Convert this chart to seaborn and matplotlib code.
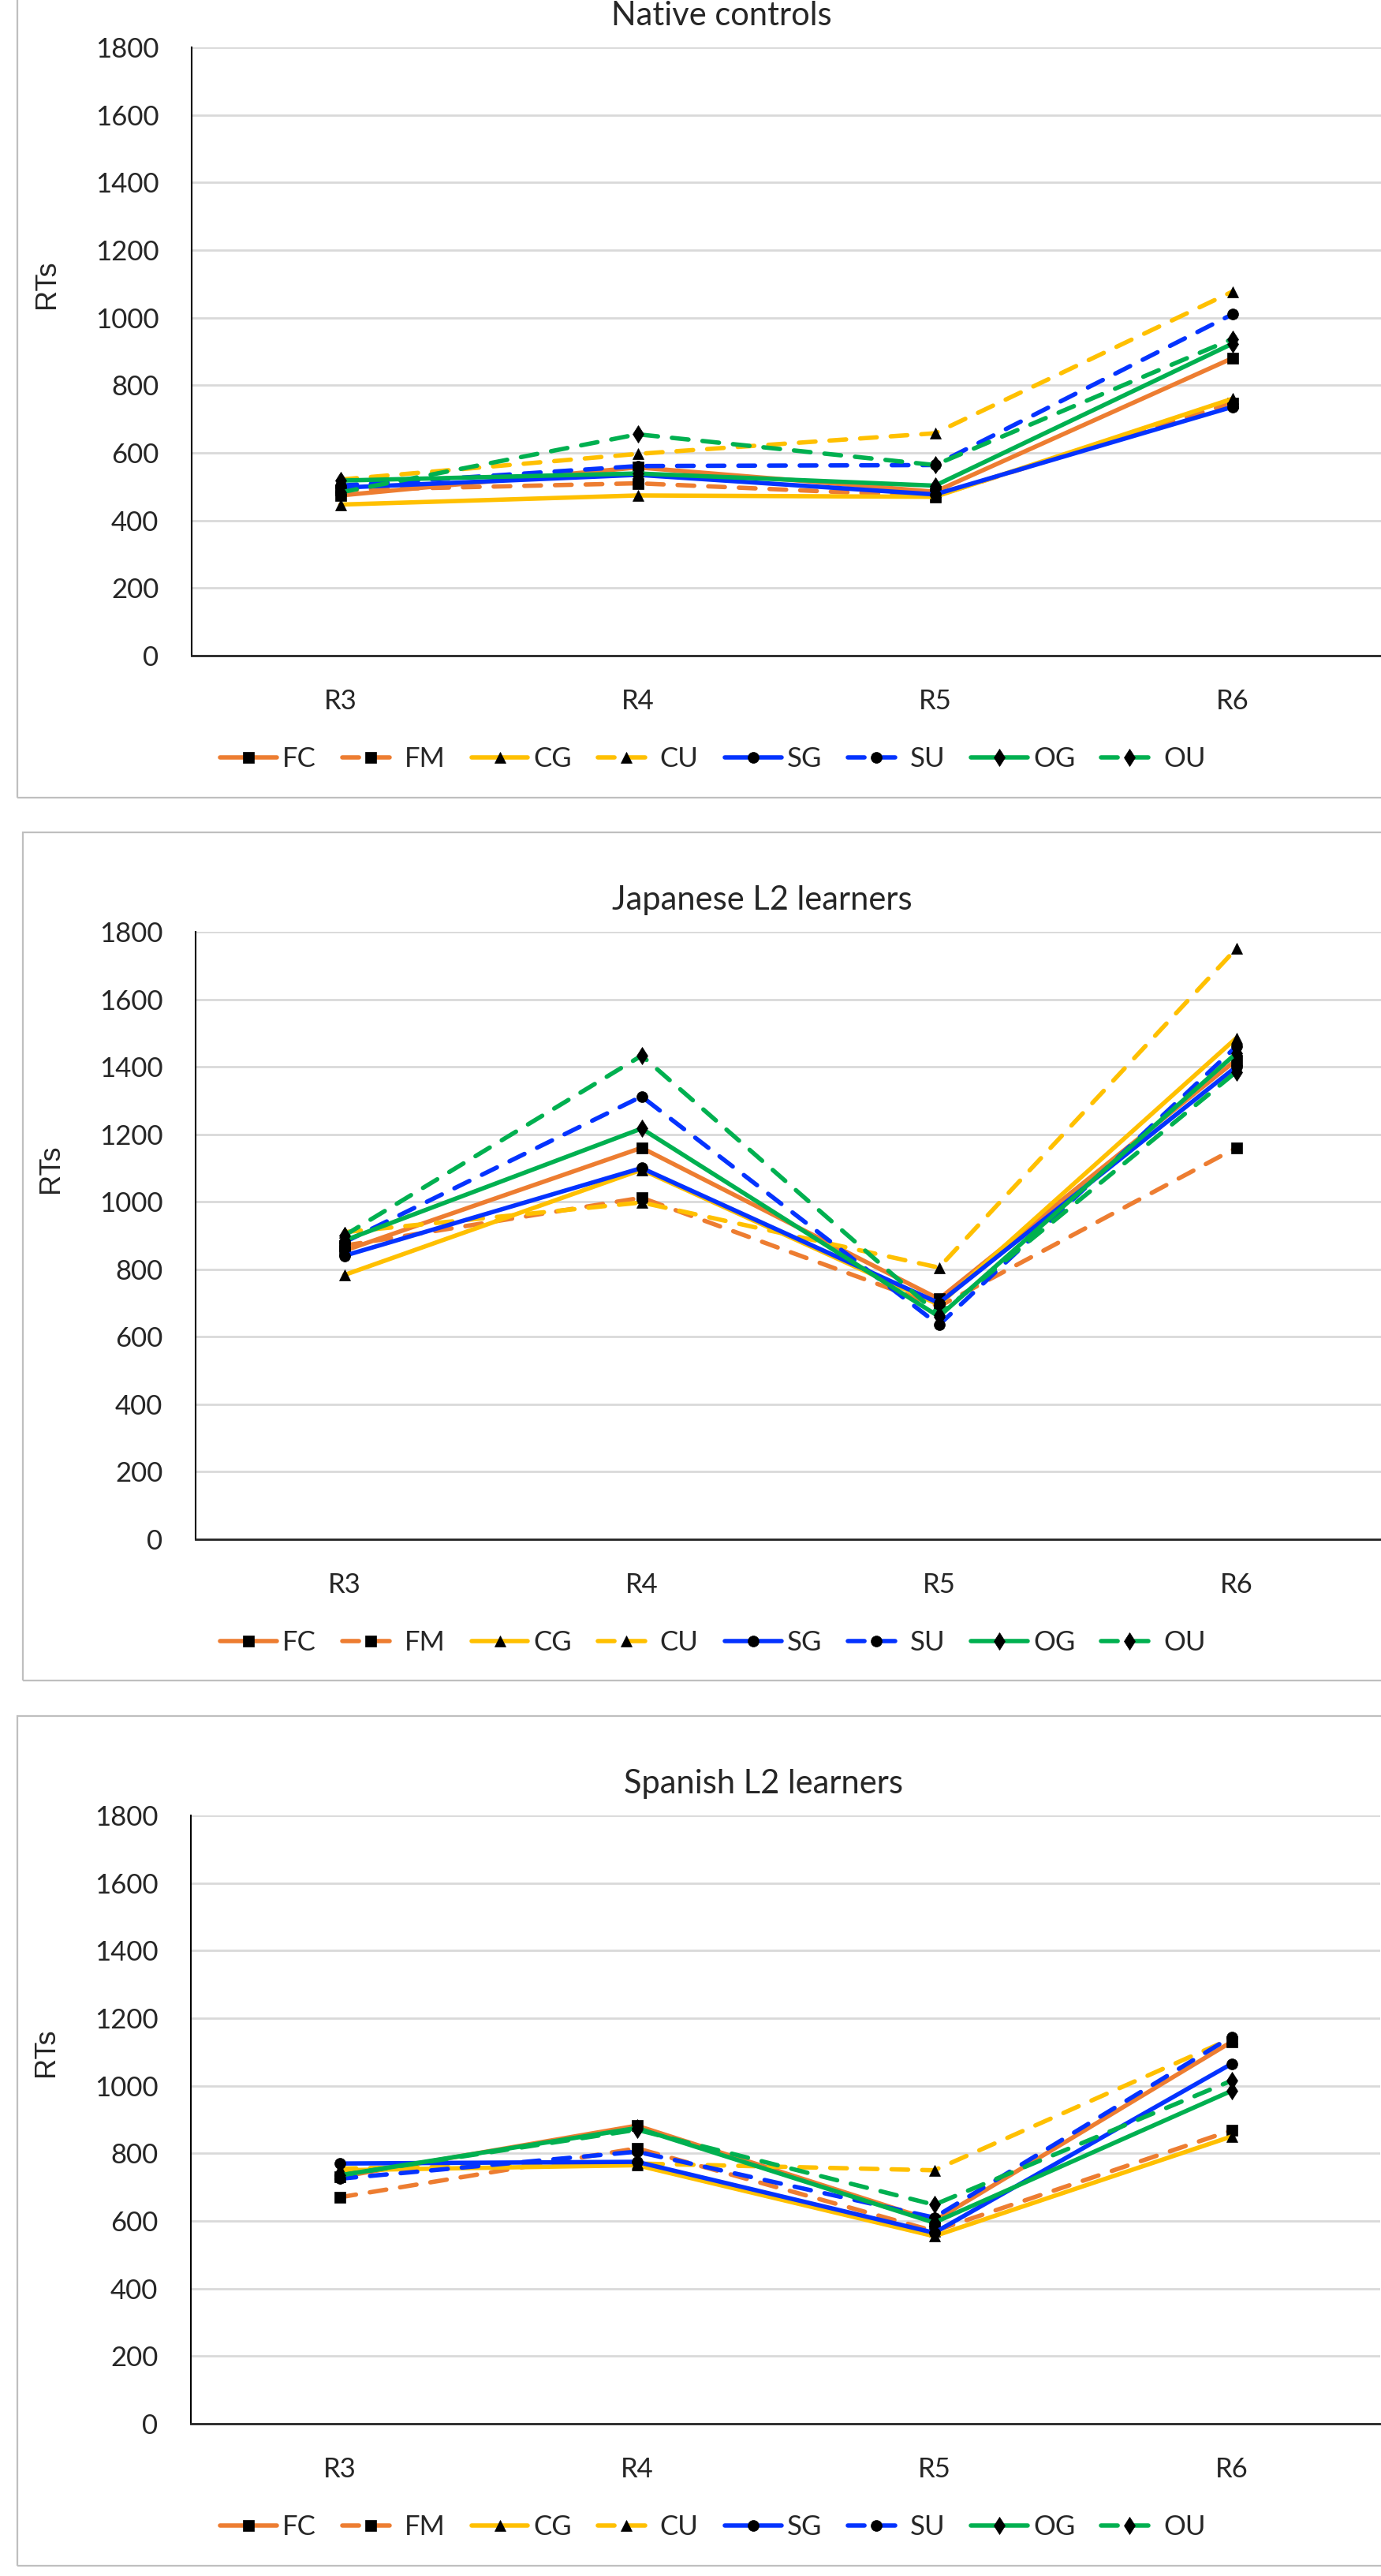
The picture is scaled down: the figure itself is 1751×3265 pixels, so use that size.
import pandas as pd
import matplotlib
matplotlib.use("Agg")
import matplotlib.pyplot as plt
import seaborn as sns
from matplotlib.patches import Rectangle

regions = ["R3", "R4", "R5", "R6"]
conditions = ["FC", "FM", "CG", "CU", "SG", "SU", "OG", "OU"]

# mean RTs per region
native = {
    "FC": [474, 557, 485, 880],
    "FM": [490, 510, 472, 748],
    "CG": [447, 474, 470, 760],
    "CU": [521, 597, 658, 1077],
    "SG": [497, 535, 477, 736],
    "SU": [503, 561, 564, 1010],
    "OG": [518, 539, 503, 923],
    "OU": [483, 655, 564, 937],
}
japanese = {
    "FC": [855, 1160, 712, 1420],
    "FM": [870, 1012, 690, 1160],
    "CG": [783, 1095, 695, 1485],
    "CU": [910, 998, 805, 1750],
    "SG": [840, 1100, 700, 1400],
    "SU": [880, 1312, 635, 1460],
    "OG": [885, 1217, 660, 1440],
    "OU": [900, 1433, 665, 1385],
}
spanish = {
    "FC": [730, 882, 600, 1130],
    "FM": [670, 815, 570, 868],
    "CG": [750, 765, 555, 850],
    "CU": [755, 770, 750, 1140],
    "SG": [770, 775, 565, 1065],
    "SU": [725, 805, 610, 1145],
    "OG": [735, 875, 595, 985],
    "OU": [735, 870, 648, 1015],
}

colors = {"FC": "#ED7D31", "FM": "#ED7D31", "CG": "#FFC000", "CU": "#FFC000",
          "SG": "#0433FF", "SU": "#0433FF", "OG": "#00B050", "OU": "#00B050"}
markers = {"FC": "s", "FM": "s", "CG": "^", "CU": "^",
           "SG": "o", "SU": "o", "OG": "d", "OU": "d"}
msize = {"s": 10, "^": 10.5, "o": 10, "d": 11.5}
dashes = {c: ("" if c in ("FC", "CG", "SG", "OG") else (3.8, 3.2)) for c in conditions}

sns.set_theme(style="white")
plt.rcParams["font.family"] = ["Lato", "DejaVu Sans"]

W, H = 1751, 3265
fig = plt.figure(figsize=(W / 100, H / 100), dpi=100)

# (title, data, title x, axes left, axes top, axes bottom, frame left, frame top, frame bottom) in px
panels = [
    ("Native controls", native, 915, 243, 60, 831, 22, -66, 1011),
    ("Japanese L2 learners", japanese, 966, 248, 1181, 1951, 29, 1055, 2130),
    ("Spanish L2 learners", spanish, 968, 242, 2301, 3072, 22, 2175, 3252),
]
cat_w = 377

for title, data, tx, left, top, bottom, fx, ftop, fbot in panels:
    # chart frame (its right edge lies outside the picture)
    fig.add_artist(Rectangle((fx / W, 1 - fbot / H), 2.0, (fbot - ftop) / H,
                             transform=fig.transFigure, fill=False,
                             ec="#BFBFBF", lw=1.6))

    ax = fig.add_axes([left / W, 1 - bottom / H, 4 * cat_w / W, (bottom - top) / H])
    rows = [(i, data[c][i], c) for c in conditions for i in range(len(regions))]
    df = pd.DataFrame(rows, columns=["pos", "rt", "cond"])

    sns.lineplot(data=df, x="pos", y="rt", hue="cond", style="cond",
                 hue_order=conditions, style_order=conditions,
                 palette=colors, markers=markers, dashes=dashes,
                 lw=4.0, markerfacecolor="black", markeredgecolor="black",
                 markeredgewidth=0.5, estimator=None, sort=False,
                 legend=False, ax=ax)
    for line, c in zip(ax.lines, conditions):
        line.set_markersize(msize[markers[c]])
        line.set_dash_capstyle("round")
        line.set_solid_capstyle("round")
        line.set_solid_joinstyle("round")

    ax.set_xlim(-0.5, 3.5)
    ax.set_ylim(0, 1800)
    ax.set_yticks(range(0, 1801, 200))
    ax.set_xticks(range(len(regions)), regions)
    ax.set_xticks([i - 0.5 for i in range(len(regions) + 1)], minor=True)
    ax.tick_params(axis="x", which="major", length=0, pad=30, labelsize=25)
    ax.tick_params(axis="x", which="minor", length=10, width=1.5,
                   direction="out", color="black")
    ax.tick_params(axis="y", which="major", length=10, width=1.5,
                   direction="in", color="black", pad=30, labelsize=25)
    ax.yaxis.grid(True, color="#D9D9D9", lw=2)
    ax.xaxis.grid(False)
    ax.set_axisbelow(True)
    for s in ("top", "right"):
        ax.spines[s].set_visible(False)
    ax.spines["left"].set_color("black")
    ax.spines["left"].set_linewidth(1.5)
    ax.spines["bottom"].set_color("#262626")
    ax.spines["bottom"].set_linewidth(2)
    ax.set_xlabel("")
    ax.set_ylabel("RTs", fontsize=26, family=["Liberation Sans", "DejaVu Sans"])
    ax.yaxis.set_label_coords(-0.110, 0.61)

    fig.text(tx / W, 1 - (top - 28) / H, title, ha="center", va="baseline",
             fontsize=30)

    fig.legend(ax.lines, conditions, loc="center",
               bbox_to_anchor=(904 / W, 1 - (bottom + 131) / H),
               ncol=8, frameon=False, fontsize=25, handlelength=2.07,
               handletextpad=0.2, columnspacing=0.95, borderaxespad=0)

fig.savefig("out.png", dpi=100)
